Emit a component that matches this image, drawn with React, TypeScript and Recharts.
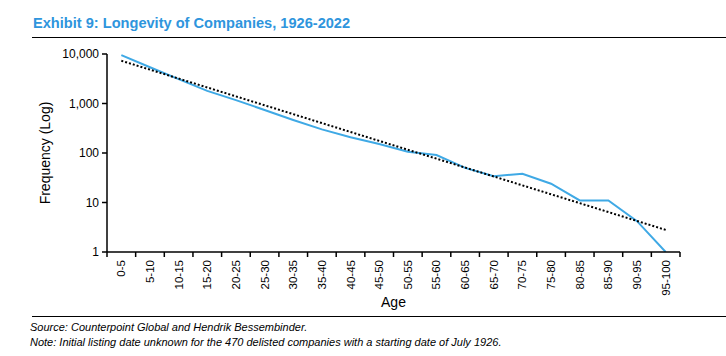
import React from 'react';
import { LineChart, Line, XAxis, YAxis } from 'recharts';

const ageBuckets = [
  '0-5', '5-10', '10-15', '15-20', '20-25', '25-30', '30-35', '35-40', '40-45', '45-50',
  '50-55', '55-60', '60-65', '65-70', '70-75', '75-80', '80-85', '85-90', '90-95', '95-100',
];

// company counts
const frequency = [9500, 5400, 3100, 1800, 1170, 740, 465, 300, 208, 152, 106, 91, 50, 34, 38, 24, 11, 11, 4.2, 1];

// exponential trend line, only its two ends (the rest is a straight line in log space)
const trendEnds = [7300, 2.8];

const yTicks = [1, 10, 100, 1000, 10000];

const chartData = ageBuckets.map((age, i) => ({
  age,
  freq: frequency[i],
  trend: i === 0 ? trendEnds[0] : i === ageBuckets.length - 1 ? trendEnds[1] : null,
}));

const FONT = 'Arial, "Liberation Sans", sans-serif';

// Excel style: tick marks sit between the categories, labels stand upright
function AgeTick(props: any) {
  const { x, y, payload, index } = props;
  const half = payload.offset || 0;
  const axisY = y - 5;
  const y0 = y + 3;
  const isLast = index === ageBuckets.length - 1;
  return (
    <g>
      <line x1={x - half} x2={x - half} y1={axisY} y2={axisY + 5} stroke="#000" strokeWidth={1.5} />
      {isLast && <line x1={x + half} x2={x + half} y1={axisY} y2={axisY + 5} stroke="#000" strokeWidth={1.5} />}
      <text
        x={x}
        y={y0}
        transform={`rotate(-90, ${x}, ${y0})`}
        textAnchor="end"
        dy="0.35em"
        fontSize={11.5}
        fontFamily={FONT}
        fill="#000"
      >
        {payload.value}
      </text>
    </g>
  );
}

export default function App() {
  return (
    <div style={{ position: 'absolute', left: 0, top: 0, width: 726, height: 356, background: '#fff', fontFamily: FONT }}>
      <div style={{ position: 'absolute', left: 33, top: 15, fontSize: 14.6, fontWeight: 'bold', color: '#2E95DD' }}>
        Exhibit 9: Longevity of Companies, 1926-2022
      </div>
      <div style={{ position: 'absolute', left: 32, top: 37, width: 694, height: 1, background: '#000' }} />

      <div style={{ position: 'absolute', left: 0, top: 0 }}>
        <LineChart
          width={726}
          height={356}
          data={chartData}
          margin={{ top: 54, right: 46, left: 37, bottom: 44 }}
        >
          <XAxis
            dataKey="age"
            scale="band"
            interval={0}
            height={60}
            stroke="#000"
            strokeWidth={1.5}
            tickLine={false}
            tickSize={5}
            tickMargin={0}
            tick={<AgeTick />}
            label={{ value: 'Age', position: 'insideBottom', offset: 5, fontSize: 14, fill: '#000', fontFamily: FONT }}
          />
          <YAxis
            scale="log"
            domain={[1, 10000]}
            ticks={yTicks}
            allowDataOverflow
            width={70}
            stroke="#000"
            strokeWidth={1.5}
            tickSize={5}
            tickMargin={3}
            tick={{ fontSize: 12, fill: '#000', fontFamily: FONT }}
            tickFormatter={(v: number) => v.toLocaleString('en-US')}
            label={{
              value: 'Frequency (Log)',
              angle: -90,
              position: 'insideLeft',
              offset: 8,
              fontSize: 14,
              fill: '#000',
              fontFamily: FONT,
              style: { textAnchor: 'middle' },
            }}
          />
          <Line
            dataKey="freq"
            stroke="#3FA9E5"
            strokeWidth={2}
            dot={false}
            isAnimationActive={false}
          />
          <Line
            dataKey="trend"
            stroke="#000"
            strokeWidth={2}
            strokeDasharray="2 2"
            dot={false}
            connectNulls
            isAnimationActive={false}
          />
        </LineChart>
      </div>

      <div style={{ position: 'absolute', left: 32, top: 316, width: 694, height: 1, background: '#000' }} />
      <div style={{ position: 'absolute', left: 30, top: 321, fontSize: 11, fontStyle: 'italic', color: '#000' }}>
        Source: Counterpoint Global and Hendrik Bessembinder.
      </div>
      <div style={{ position: 'absolute', left: 30, top: 336, fontSize: 11, fontStyle: 'italic', color: '#000' }}>
        Note: Initial listing date unknown for the 470 delisted companies with a starting date of July 1926.
      </div>
    </div>
  );
}
